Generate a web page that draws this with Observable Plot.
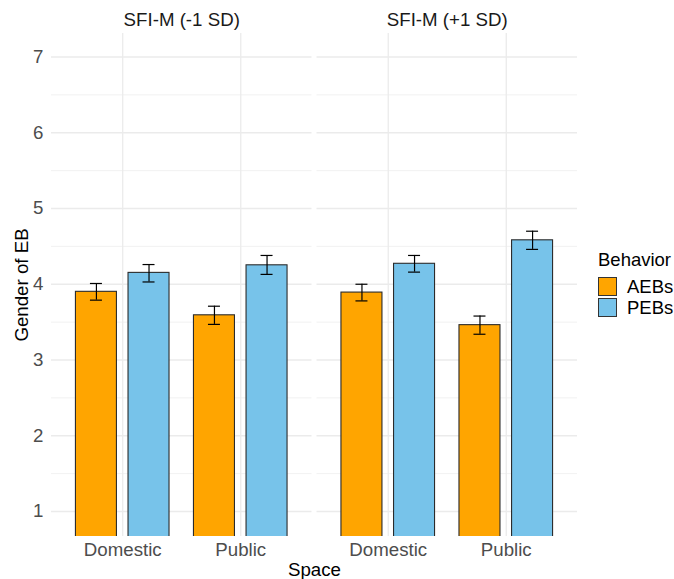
<!DOCTYPE html>
<html><head><meta charset="utf-8">
<script src="https://cdn.jsdelivr.net/npm/d3@7"></script>
<script src="https://cdn.jsdelivr.net/npm/@observablehq/plot@0.6"></script>
<style>
body{margin:0;background:#fff;font-family:"Liberation Sans",Arial,sans-serif;}
#wrap{position:relative;width:674px;height:579px;}
#legend{position:absolute;left:598px;top:250px;font-size:18.5px;color:#000;}
#legend .title{height:20px;line-height:20px;margin-bottom:6px;}
#legend .row{display:flex;align-items:center;height:21px;}
#legend .sw{width:19px;height:19px;box-sizing:border-box;border:1.3px solid #333;margin-right:10px;}
</style></head><body><div id="wrap"></div>
<script>
const conditions = ["SFI-M (-1 SD)", "SFI-M (+1 SD)"];
const spaces = ["Domestic", "Public"];
const behaviors = ["AEBs", "PEBs"];
const behaviorColors = ["#FFA500", "#77C3EA"];
const yTicks = [1, 2, 3, 4, 5, 6, 7];
const yMinorTicks = [1.5, 2.5, 3.5, 4.5, 5.5, 6.5];
const yLabel = "Gender of EB";
const xLabel = "Space";
const legendTitle = "Behavior";

const rowCondition = ["SFI-M (-1 SD)", "SFI-M (-1 SD)", "SFI-M (-1 SD)", "SFI-M (-1 SD)",
                      "SFI-M (+1 SD)", "SFI-M (+1 SD)", "SFI-M (+1 SD)", "SFI-M (+1 SD)"];
const rowSpace = ["Domestic", "Domestic", "Public", "Public", "Domestic", "Domestic", "Public", "Public"];
const rowBehavior = ["AEBs", "PEBs", "AEBs", "PEBs", "AEBs", "PEBs", "AEBs", "PEBs"];
const meanValues  = [3.90, 4.15, 3.59, 4.25, 3.89, 4.27, 3.46, 4.58];
const lowerValues = [3.79, 4.03, 3.47, 4.13, 3.78, 4.16, 3.34, 4.46];
const upperValues = [4.01, 4.26, 3.71, 4.38, 4.00, 4.38, 3.58, 4.70];

const data = meanValues.map((m, i) => ({
  condition: rowCondition[i], space: rowSpace[i], behavior: rowBehavior[i],
  mean: m, lower: lowerValues[i], upper: upperValues[i]
}));

const BAR = 41, CAP = 12;
const GRID = "#EBEBEB";

function build(bw) {
  const inset = bw - BAR;
  const shift = inset / 2;
  const marks = [
    Plot.gridY({ticks: yMinorTicks, stroke: GRID, strokeOpacity: 1, strokeWidth: 0.7}),
    Plot.gridY({ticks: yTicks, stroke: GRID, strokeOpacity: 1, strokeWidth: 1.3}),
    Plot.gridX({stroke: GRID, strokeOpacity: 1, strokeWidth: 1.3})
  ];
  behaviors.forEach((b, k) => {
    const sub = data.filter(d => d.behavior === b);
    const left = k === 0;
    const capA = BAR / 2 - CAP / 2, capB = bw - BAR / 2 - CAP / 2;
    marks.push(Plot.barY(sub, {fx: "condition", x: "space", y: "mean", fill: "behavior",
      stroke: "#2b2b2b", strokeWidth: 1.1, clip: true,
      insetLeft: left ? 0 : inset, insetRight: left ? inset : 0}));
    marks.push(Plot.ruleX(sub, {fx: "condition", x: "space", y1: "lower", y2: "upper",
      dx: left ? -shift : shift, stroke: "#000", strokeWidth: 1.2}));
    for (const key of ["lower", "upper"]) {
      marks.push(Plot.tickY(sub, {fx: "condition", x: "space", y: key, stroke: "#000", strokeWidth: 1.2,
        insetLeft: left ? capA : capB, insetRight: left ? capB : capA}));
    }
  });
  marks.push(
    Plot.axisY({ticks: yTicks, tickFormat: d3.format("d"), tickSize: 0, tickPadding: 8, label: null, color: "#4D4D4D"}),
    Plot.axisX({tickSize: 0, tickPadding: 6, label: null, color: "#4D4D4D"}),
    Plot.axisFx({anchor: "top", tickSize: 0, tickPadding: 8, label: null, color: "#1A1A1A"}),
    Plot.text([yLabel], {text: d => d, facet: "super", frameAnchor: "left", textAnchor: "middle",
      lineAnchor: "middle", rotate: -90, dx: -29, fill: "#000"}),
    Plot.text([xLabel], {text: d => d, facet: "super", frameAnchor: "bottom", lineAnchor: "middle",
      dy: 34, fill: "#000"})
  );
  return Plot.plot({
    width: 674, height: 579,
    marginLeft: 51, marginRight: 97, marginTop: 33, marginBottom: 43,
    style: {fontFamily: "'Liberation Sans', Arial, sans-serif", fontSize: "18.7px", background: "#fff"},
    fx: {domain: conditions, paddingInner: 0.019, paddingOuter: 0, round: false},
    x: {domain: spaces, padding: 0.207, round: false},
    y: {domain: [0.67, 7.31]},
    color: {domain: behaviors, range: behaviorColors},
    marks
  });
}

let chart = build(93.5);
const bw = chart.scale("x").bandwidth;
if (bw && Math.abs(bw - 93.5) > 0.01) chart = build(bw);
const wrap = document.getElementById("wrap");
wrap.appendChild(chart);

const legend = document.createElement("div");
legend.id = "legend";
const t = document.createElement("div");
t.className = "title"; t.textContent = legendTitle;
legend.appendChild(t);
behaviors.forEach((b, i) => {
  const row = document.createElement("div"); row.className = "row";
  const sw = document.createElement("div"); sw.className = "sw"; sw.style.background = behaviorColors[i];
  const lab = document.createElement("span"); lab.textContent = b;
  row.appendChild(sw); row.appendChild(lab);
  legend.appendChild(row);
});
wrap.appendChild(legend);
</script></body></html>
